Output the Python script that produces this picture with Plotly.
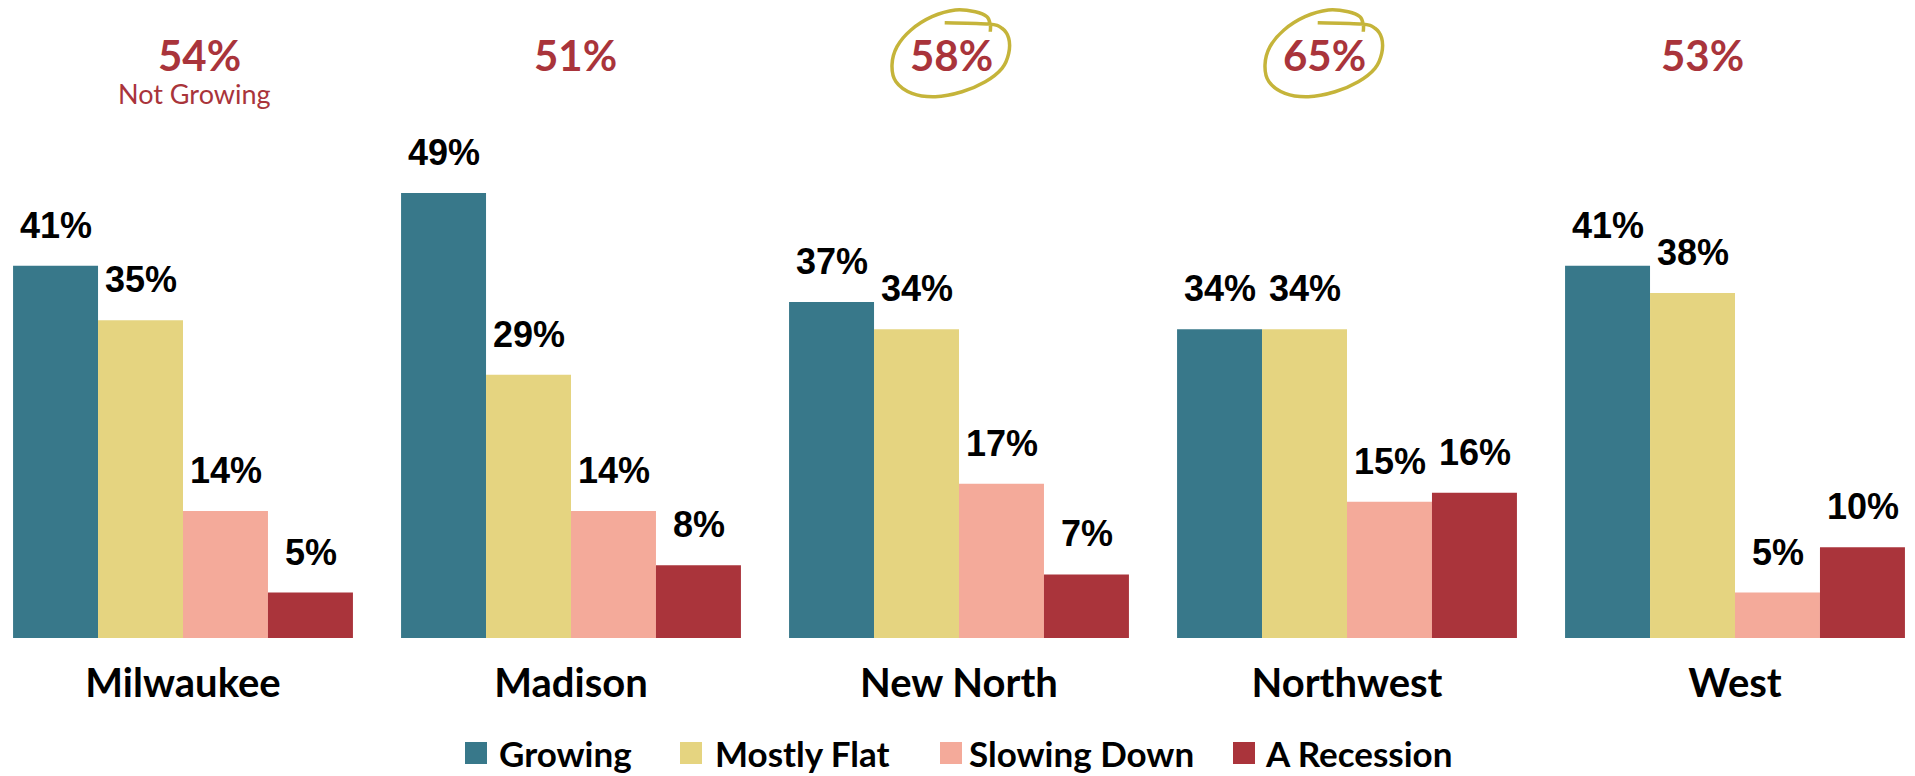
import plotly.graph_objects as go

# ---------------- data ----------------
regions = ["Milwaukee", "Madison", "New North", "Northwest", "West"]
series_names = ["Growing", "Mostly Flat", "Slowing Down", "A Recession"]
growing = [41, 49, 37, 34, 41]
mostly_flat = [35, 29, 34, 34, 38]
slowing_down = [14, 14, 17, 15, 5]
recession = [5, 8, 7, 16, 10]
not_growing = [54, 51, 58, 65, 53]
circled_regions = ["New North", "Northwest"]

# ---------------- style ----------------
colors = ["#38788A", "#E5D480", "#F4AA9A", "#AA343B"]
red_text = "#A9343B"
circle_color = "#C5B43A"

PAGE_W, PAGE_H = 1915, 776
OFF = 8                       # default page margin of the html body
W, H = PAGE_W - OFF, PAGE_H - OFF
BASE_PX = 638                 # page pixel row of the baseline
PLOT_H = BASE_PX - OFF
PX_PER_PCT = 9.08
PERIOD = 388.0                # pixels per category
C0 = 183.0                    # page pixel x of first category centre
BAR_PX = 85.0
y_top = PLOT_H / PX_PER_PCT
x_min = (OFF - C0) / PERIOD
x_max = (OFF + W - C0) / PERIOD


def px2xp(px):
    return (px - OFF) / W


def py2yp(py):
    return (BASE_PX - py) / PLOT_H


fig = go.Figure()
all_series = [growing, mostly_flat, slowing_down, recession]
for name, vals, col in zip(series_names, all_series, colors):
    fig.add_trace(go.Bar(
        x=regions, y=vals, name=name, marker_color=col,
        marker_line_width=0, showlegend=False,
    ))

annotations = []
# value labels above each bar
for si, vals in enumerate(all_series):
    off = (si - 1.5) * BAR_PX / PERIOD
    for ci, v in enumerate(vals):
        annotations.append(dict(
            x=ci + off, y=v, xref="x", yref="y", text=f"{v}%",
            showarrow=False, yanchor="bottom", xanchor="center", yshift=18,
            font=dict(family="Liberation Sans, Arial", size=36, color="black", weight=700),
        ))

# top "not growing" labels
top_dx = [16, 4, -8, -23, -33]
shapes = []
circle_offsets = [(-6.3, -34.3), (37.7, -33), (51, -28.7), (57.7, -18.7), (57.7, -3.7),
                  (51, 11.3), (34.3, 24.7), (11, 34.7), (-15.7, 39.7), (-39, 36.3),
                  (-55, 24.7), (-59, 8), (-54, -10.3), (-40, -27), (-19, -40.3),
                  (4.3, -47), (24.3, -45.3), (36, -40.3), (39.3, -32), (39.3, -25.3)]


def smooth_path(pts):
    d = f"M {pts[0][0]:.5f},{pts[0][1]:.5f}"
    n = len(pts)
    for i in range(n - 1):
        p0 = pts[i - 1] if i > 0 else pts[i]
        p1 = pts[i]
        p2 = pts[i + 1]
        p3 = pts[i + 2] if i + 2 < n else pts[i + 1]
        c1 = (p1[0] + (p2[0] - p0[0]) / 6, p1[1] + (p2[1] - p0[1]) / 6)
        c2 = (p2[0] - (p3[0] - p1[0]) / 6, p2[1] - (p3[1] - p1[1]) / 6)
        d += f" C {c1[0]:.5f},{c1[1]:.5f} {c2[0]:.5f},{c2[1]:.5f} {p2[0]:.5f},{p2[1]:.5f}"
    return d


for ci, (reg, val) in enumerate(zip(regions, not_growing)):
    cx = C0 + ci * PERIOD + top_dx[ci]
    annotations.append(dict(
        x=px2xp(cx), y=py2yp(72 + 0.213 * 42 + 1), xref="paper", yref="paper",
        text=f"{val}%", showarrow=False, yanchor="bottom", xanchor="center",
        font=dict(family="Lato", size=42, color=red_text, weight=700),
    ))
    if ci == 0:
        annotations.append(dict(
            x=px2xp(cx - 5), y=py2yp(105 + 0.213 * 27 + 1), xref="paper", yref="paper",
            text="Not Growing", showarrow=False, yanchor="bottom", xanchor="center",
            font=dict(family="Lato", size=27, color=red_text),
        ))
    if reg in circled_regions:
        pts = [(px2xp(cx + dx), py2yp(57 + dy)) for dx, dy in circle_offsets]
        shapes.append(dict(type="path", xref="paper", yref="paper",
                           path=smooth_path(pts),
                           line=dict(color=circle_color, width=3.5)))

# manual legend
legend_sq_x = [465, 680, 940, 1233]
legend_txt_x = [497, 713, 967, 1263]
for name, col, sx, tx in zip(series_names, colors, legend_sq_x, legend_txt_x):
    shapes.append(dict(type="rect", xref="paper", yref="paper",
                       x0=px2xp(sx), x1=px2xp(sx + 22), y0=py2yp(764), y1=py2yp(742),
                       fillcolor=col, line=dict(width=0)))
    annotations.append(dict(
        x=px2xp(tx), y=py2yp(753), xref="paper", yref="paper", text=name,
        showarrow=False, xanchor="left", yanchor="middle",
        font=dict(family="Lato", size=35, color="black", weight=700),
    ))

fig.update_layout(
    width=W, height=H,
    margin=dict(l=0, r=0, t=0, b=H - PLOT_H, pad=0),
    barmode="group", bargap=0.124, bargroupgap=0,
    plot_bgcolor="white", paper_bgcolor="white",
    annotations=annotations, shapes=shapes,
    showlegend=False,
)
fig.update_xaxes(range=[x_min, x_max], showgrid=False, zeroline=False, showline=False,
                 ticks="", ticklabelstandoff=18,
                 tickfont=dict(family="Lato", size=40, color="black", weight=700))
fig.update_yaxes(range=[0, y_top], showgrid=False, zeroline=False, showline=False,
                 showticklabels=False, ticks="")

fig.write_html("out.html")
